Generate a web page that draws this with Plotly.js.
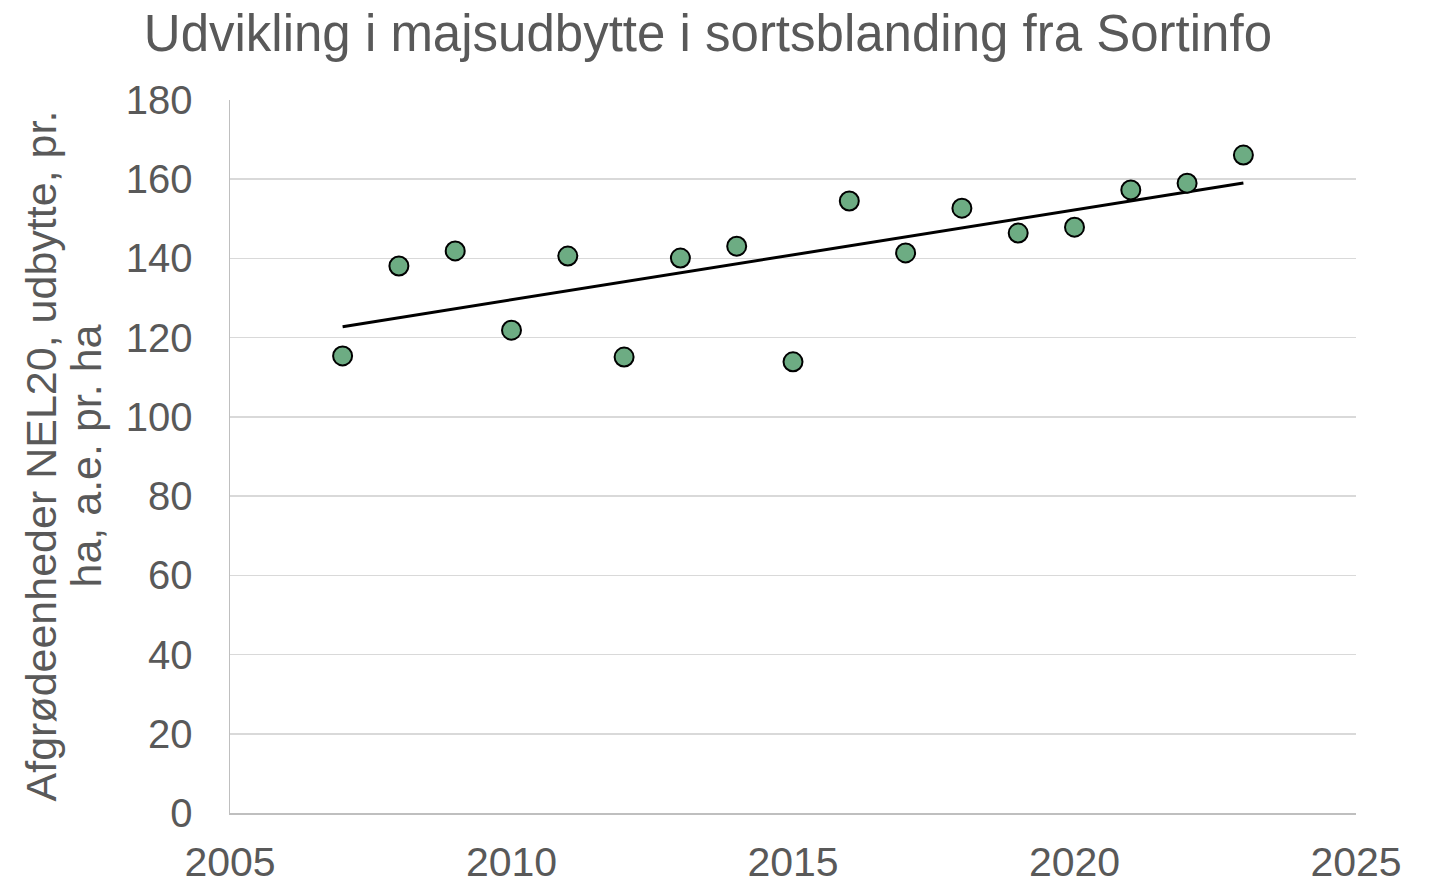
<!DOCTYPE html>
<html>
<head>
<meta charset="utf-8">
<script src="https://cdn.plot.ly/plotly-3.0.1.min.js"></script>
<style>html,body{margin:0;padding:0;background:#fff;}#chart{width:1433px;height:885px;}</style>
</head>
<body>
<div id="chart"></div>
<script>
const years = [2007, 2008, 2009, 2010, 2011, 2012, 2013, 2014, 2015, 2016, 2017, 2018, 2019, 2020, 2021, 2022, 2023];
const yieldValues = [115.4, 138.1, 141.9, 121.9, 140.6, 115.1, 140.1, 143.1, 113.9, 154.5, 141.4, 152.7, 146.4, 147.9, 157.3, 159.0, 166.1];
const xTicks = [2005, 2010, 2015, 2020, 2025];
const yTicks = [0, 20, 40, 60, 80, 100, 120, 140, 160, 180];
const yTitleLines = ['Afgrødeenheder NEL20, udbytte, pr.', 'ha, a.e. pr. ha'];

// Linear trendline (least squares) from the data
const n = years.length;
const mx = years.reduce((a, b) => a + b, 0) / n;
const my = yieldValues.reduce((a, b) => a + b, 0) / n;
let sxy = 0, sxx = 0;
for (let i = 0; i < n; i++) { sxy += (years[i] - mx) * (yieldValues[i] - my); sxx += (years[i] - mx) ** 2; }
const slope = sxy / sxx, intercept = my - slope * mx;
const trendX = [years[0], years[n - 1]];
const trendY = trendX.map(x => intercept + slope * x);

const font = 'Liberation Sans, Arial, sans-serif';
const grey = '#595959';

const traces = [
  {x: trendX, y: trendY, type: 'scatter', mode: 'lines', line: {color: '#000', width: 3}, hoverinfo: 'skip', showlegend: false},
  {x: years, y: yieldValues, type: 'scatter', mode: 'markers',
   marker: {size: 19, color: '#6dac83', line: {color: '#000', width: 2}}, showlegend: false}
];

const titleShifts = [-190, -145];
const annotations = yTitleLines.map((t, i) => ({
  text: t, xref: 'paper', yref: 'paper', x: 0, y: 0.5, xshift: titleShifts[i], yshift: 0,
  xanchor: 'center', yanchor: 'middle', textangle: -90, showarrow: false,
  font: {family: font, size: 43, color: grey}
}));

const layout = {
  width: 1433, height: 885,
  margin: {l: 230, r: 77, t: 100, b: 72},
  paper_bgcolor: '#fff', plot_bgcolor: '#fff',
  font: {family: font, color: grey, size: 40},
  title: {text: 'Udvikling i majsudbytte i sortsblanding fra Sortinfo', font: {family: font, size: 51, color: grey},
          x: 0.494, xref: 'container', xanchor: 'center', y: 0.962, yref: 'container', yanchor: 'middle'},
  xaxis: {range: [2005, 2025], tickvals: xTicks, ticktext: xTicks.map(String), showgrid: false, zeroline: false,
          showline: true, linecolor: '#bfbfbf', linewidth: 1.5, ticks: 'outside', ticklen: 12, tickcolor: 'rgba(0,0,0,0)',
          tickfont: {size: 41, color: grey}, automargin: false},
  yaxis: {range: [0, 180], tickvals: yTicks, ticktext: yTicks.map(String), showgrid: true, gridcolor: '#d9d9d9', gridwidth: 1.5,
          zeroline: false, showline: true, linecolor: '#bfbfbf', linewidth: 1.5, ticks: 'outside', ticklen: 28, tickcolor: 'rgba(0,0,0,0)',
          tickfont: {size: 40, color: grey}, automargin: false},
  annotations: annotations
};

Plotly.newPlot('chart', traces, layout, {displayModeBar: false, staticPlot: true});
</script>
</body>
</html>
